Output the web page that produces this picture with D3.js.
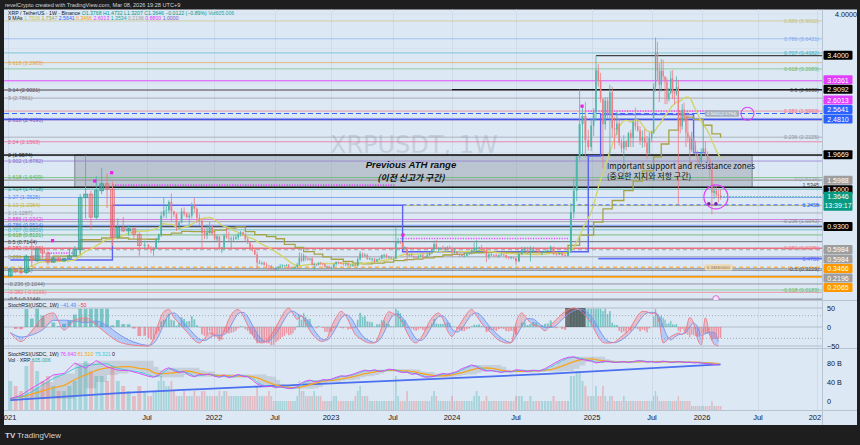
<!DOCTYPE html>
<html>
<head>
<meta charset="utf-8">
<script src="https://cdn.jsdelivr.net/npm/d3@7"></script>
<style>
  html, body { margin: 0; padding: 0; background: #1e1e1e; }
  svg { display: block; font-family: "Liberation Sans", Arial, sans-serif; }
</style>
</head>
<body>
<svg id="chart" width="860" height="445"></svg>
<script>
// ------- data (weekly XRP/USDT) -------
const firstWeek = "2021-01-04";
const firstOpen = 0.22;

const closes = [
  .31,.28,.27,.50,.44,.61,.55,.42,.48,.44,.47,.51,.60,1.35,1.40,1.07,1.45,1.55,1.47,.78,.92,.87,.90,.82,.66,.67,
  .62,.59,.61,.74,.81,1.09,1.16,1.17,1.29,1.15,1.11,.95,.99,1.15,1.12,1.07,1.09,1.24,1.19,1.06,1.02,.84,.81,.84,.94,.83,
  .75,.79,.62,.63,.80,.77,.76,.76,.76,.78,.82,.85,.82,.75,.70,.63,.60,.53,.41,.41,.41,.38,.37,.36,.32,.31,
  .34,.35,.36,.37,.37,.38,.34,.33,.33,.35,.38,.48,.44,.51,.48,.46,.47,.38,.39,.38,.41,.40,.39,.35,.35,.34,
  .35,.39,.42,.41,.40,.39,.40,.37,.37,.38,.37,.46,.54,.51,.52,.47,.47,.47,.43,.46,.47,.52,.52,.49,.49,.47,
  .47,.71,.71,.70,.63,.63,.52,.52,.51,.49,.48,.50,.52,.50,.49,.52,.55,.60,.68,.62,.62,.62,.61,.61,.63,.62,
  .57,.57,.54,.53,.51,.51,.54,.55,.59,.62,.62,.63,.60,.59,.50,.53,.53,.52,.50,.52,.53,.52,.49,.48,.49,.48,
  .43,.54,.60,.60,.56,.57,.60,.59,.55,.56,.58,.59,.64,.54,.53,.55,.52,.51,.57,1.14,1.45,1.94,2.41,2.53,2.18,2.08,2.39,
  2.58,3.19,3.04,2.77,2.41,2.75,2.55,2.87,2.35,2.33,2.42,2.14,2.06,2.16,2.08,2.28,2.21,2.44,2.38,2.32,2.17,2.22,2.14,1.99,2.21,2.28,
  2.95,3.45,3.18,2.98,3.18,3.10,3.02,2.77,2.86,3.07,2.87,2.85,2.95,2.47,2.38,2.62,2.50,2.29,2.22,2.04,2.20,2.10,2.00,1.92,1.86,2.00,
  2.06,1.98,1.90,1.75,1.42,1.45,1.40,1.3768,1.3646
];
const highs = [
  .35,.33,.32,.53,.76,.63,.65,.58,.50,.49,.48,.63,.65,1.40,1.96,1.45,1.66,1.78,1.70,1.58,1.05,1.07,.95,.92,.85,.73,
  .68,.65,.64,.77,.83,1.15,1.35,1.25,1.31,1.41,1.16,1.13,1.01,1.20,1.21,1.14,1.12,1.28,1.35,1.21,1.11,1.05,.91,.96,1.00,.96,
  .85,.81,.79,.64,.83,.91,.86,.79,.80,.82,.84,.87,.86,.84,.78,.71,.67,.61,.57,.45,.43,.43,.41,.37,.38,.33,
  .35,.36,.39,.39,.38,.39,.39,.35,.34,.36,.41,.56,.55,.54,.51,.48,.48,.50,.41,.39,.42,.42,.40,.40,.37,.37,
  .36,.40,.43,.43,.42,.41,.41,.41,.39,.39,.40,.49,.58,.56,.55,.54,.49,.48,.48,.47,.48,.53,.54,.54,.51,.50,
  .49,.93,.77,.73,.71,.65,.63,.53,.55,.51,.50,.52,.53,.55,.51,.55,.57,.63,.73,.74,.63,.63,.66,.64,.65,.66,
  .63,.62,.58,.54,.53,.52,.56,.56,.62,.70,.74,.64,.67,.62,.63,.55,.56,.53,.54,.53,.55,.54,.53,.50,.50,.49,
  .48,.55,.64,.64,.64,.65,.64,.61,.60,.57,.59,.60,.66,.64,.55,.56,.56,.54,.59,1.27,1.63,1.95,2.91,2.65,2.73,2.33,2.50,
  2.64,3.40,3.28,3.15,2.78,2.80,2.80,2.98,2.95,2.52,2.59,2.50,2.20,2.25,2.18,2.30,2.33,2.47,2.65,2.48,2.38,2.32,2.34,2.24,2.29,2.32,
  3.00,3.66,3.60,3.29,3.35,3.34,3.10,3.08,2.93,3.18,3.19,2.89,3.10,3.05,2.60,2.70,2.72,2.55,2.58,2.25,2.30,2.22,2.17,2.03,1.95,2.06,
  2.41,2.16,2.02,1.93,1.76,1.55,1.52,1.46,1.4732
];
const lows = [
  .21,.26,.24,.25,.36,.42,.48,.38,.41,.43,.42,.45,.50,.56,1.05,.89,1.03,1.40,1.20,.65,.75,.85,.80,.76,.51,.62,
  .60,.55,.51,.60,.70,.78,1.06,1.05,1.13,1.01,1.07,.87,.89,.98,1.08,1.05,.95,1.05,1.13,.98,.95,.62,.75,.75,.82,.81,
  .73,.72,.59,.55,.59,.76,.72,.62,.71,.74,.74,.79,.80,.72,.68,.62,.57,.52,.33,.39,.38,.37,.34,.29,.31,.30,
  .30,.31,.34,.33,.36,.36,.33,.32,.32,.32,.32,.37,.42,.43,.44,.44,.44,.37,.31,.36,.37,.38,.37,.34,.34,.33,
  .33,.34,.37,.39,.39,.37,.36,.37,.36,.35,.36,.36,.44,.48,.49,.45,.45,.43,.41,.43,.45,.46,.47,.47,.47,.46,
  .46,.46,.68,.68,.61,.61,.43,.50,.49,.48,.47,.47,.49,.49,.47,.48,.51,.54,.59,.60,.57,.60,.59,.58,.59,.60,
  .50,.54,.53,.49,.50,.49,.50,.52,.53,.58,.57,.55,.59,.56,.42,.46,.51,.49,.50,.48,.51,.51,.47,.46,.46,.46,
  .38,.42,.52,.57,.54,.43,.55,.56,.55,.52,.55,.57,.58,.52,.51,.52,.50,.50,.50,.55,1.05,1.30,1.90,1.96,1.93,2.03,2.02,
  2.24,2.46,2.95,2.72,1.77,2.33,2.50,1.95,2.22,2.05,2.25,2.10,2.00,1.61,2.03,2.08,2.08,2.08,2.32,2.30,2.11,2.07,2.08,1.91,1.97,2.16,
  2.27,2.88,3.03,2.73,2.88,3.05,2.70,2.70,2.74,2.84,2.77,2.70,2.82,1.25,2.28,2.33,2.44,2.08,2.15,1.82,2.01,1.98,1.95,1.82,1.82,1.82,
  2.00,1.95,1.85,1.62,1.11,1.33,1.35,1.28,1.3207
];
const volumes = [
  6,5,4,9,10,8,6,7,5,4,4,5,6,9,10,8,7,7,6,9,6,5,4,3,5,4, 3,3,4,4,6,7,6,5,5,6,4,3,3,3,4,3,3,3,4,3,3,4,4,3,3,3,
  3,3,4,3,4,4,3,3,3,3,3,3,3,3,3,3,3,3,5,3,3,3,3,4,3,2, 2,2,2,2,2,2,2,2,2,2,3,6,4,4,3,3,3,3,4,3,3,3,2,2,2,2,
  2,3,3,2,2,2,2,2,2,2,3,4,5,3,3,3,2,2,2,2,2,2,2,2,2,2, 2,7,3,2,2,2,4,2,2,2,2,2,2,2,2,2,2,3,4,3,2,2,2,2,2,2,
  3,2,2,2,2,2,2,2,2,3,4,3,2,2,3,2,2,2,2,2,2,2,2,2,2,2, 3,3,3,2,2,3,2,2,2,2,2,2,2,3,2,2,2,2,2,7,7,8,8,6,5,3,3,
  3,5,3,3,5,3,2,3,3,2,2,2,2,3,2,2,2,2,2,2,2,2,2,2,2,2, 3,4,3,2,2,2,2,2,2,2,2,2,2,3,2,2,2,2,2,2,1,1,1,1,1,1,
  1,1,1,1,2,1,1,1,1
];

// oscillator pane, one value every 2 weeks
const oscVals = [
  -15,-38,-10,25,37,-8,18,24,5,-18, -38,-46,-49,-50,-30,10,40,46,25,10,
  -5,-20,-35,-42,-30,-15,-20,-30,-10,20, 40,46,30,5,-20,-38,-42,-35,-20,0,
  20,40,50,35,20,30,10,-10,-25,-35, -38,-30,0,25,41,30,5,-20,-30,-38,
  -42,-42,-20,20,40,35,28,10,-15,-35, -42,-30,-10,15,30,37,20,-10,-25,-5,
  15,35,46,30,10,-5,-16,-30,-38,-42, -42,10,37,20,5,2,-10,5,20,35,
  45,50,45,30,10,-15,-35,-42,-42,-40, -30,-20,-10,10,30,41,40,35,37,10,
  -42,-35,-25,-20,-16,-20,-5,25,10,-30, -47,24,-20,-45,-50
];
// lower pane stochastic %K, one value every 2 weeks
const stochK = [
  5,12,27,40,55,58,80,69,85,72, 65,64,58,52,50,55,66,70,64,60,
  62,54,51,56,55,57,52,50,54,49, 52,56,52,51,44,36,32,30,31,28,
  30,28,26,27,30,38,42,44,40,42, 45,44,46,50,53,52,55,58,62,65,
  63,66,62,64,67,66,62,60,61,56, 58,53,50,51,52,55,58,56,59,62,
  68,72,76,72,66,63,64,62,60,63, 61,66,64,62,65,63,68,75,82,88,
  92,93,88,86,84,80,82,84,83,81, 82,83,81,83,85,84,82,83,81,82,
  84,83,81,82,83,82,81,82,80,81, 80,79,78,77,76
];
const blueTrendDates = ["2021-01-04", "2021-05-10", "2022-09-12", "2024-09-16", "2026-03-02"];
const blueTrendVals = [2, 15, 34, 57, 77];

// time axis
const tickDates = ["2021-01-01","2021-07-01","2022-01-01","2022-07-01","2023-01-01","2023-07-01","2024-01-01",
                   "2024-07-01","2025-01-01","2025-07-01","2026-01-01","2026-07-01","2027-01-01"];
const tickLabels = ["2021","Jul","2022","Jul","2023","Jul","2024","Jul","2025","Jul","2026","Jul","2027"];

// fib retracement drawn from the 2021 range (labels on the left)
const leftFibLevels = [3.618,3.14,3,2.618,2.24,2,1.902,1.618,1.414,1.27,1.13,1,0.886,0.786,0.707,0.618,0.5,0.382,0.236,0,-0.236,-0.382,-0.5];
const leftFibPrices = [3.2983,2.9021,2.7861,2.4696,2.1563,1.9574,1.8782,1.6409,1.4718,1.3525,1.2364,1.1287,1.0342,0.9514,0.8859,0.8121,0.7144,0.6166,0.4956,0.3001,0.1044,-0.0166,-0.1144];
// fib drawn from the 2025 range (labels on the right)
const rightFibLevels = [0.886,0.786,0.707,0.618,0.5,0.382,0.236,0,-0.236,-0.382,-0.5,-0.618];
const rightFibPrices = [3.9002,3.6421,3.4382,3.2083,2.9038,2.5993,2.2225,1.6134,1.0043,0.6275,0.3229,0.0183];

// key horizontal levels
const keyPrices = [3.4, 3.0361, 2.9092, 2.5641, 2.4810, 1.9669, 1.5988, 1.5, 1.2455, 0.93, 0.5984, 0.47, 0.3466, 0.2196, 0.2065];
const keyStarts = ["2025-01-13", null, "2024-01-01", null, null, null, null, null, "2023-07-31", null, null, "2025-01-20", null, null, null];

// step line, magenta dotted levels and markers
const blueStepDates = ["2021-01-04","2021-05-17","2023-07-31","2024-12-23","2025-01-27","2025-12-01","2026-01-12"];
const blueStepVals = [0.45, 1.24, 0.57, 1.95, 2.55, 2.0, 2.0];
const dotStarts = ["2021-02-22","2021-05-17","2023-07-24","2024-12-16"];
const dotEnds = ["2021-03-29","2023-07-10","2024-11-04","2026-02-16"];
const dotPrices = [0.55, 1.53, 0.76, 2.60];
const markDates = ["2021-02-28","2021-04-24","2021-05-16","2023-08-01","2024-12-08"];
const markPrices = [0.73, 1.59, 1.71, 0.81, 2.67];

// zone box and notes
const zoneDates = ["2021-03-29", "2026-06-12"];
const zonePrices = [1.5, 1.9669];
const notes = [
  { t: "Previous ATH range", d: "2023-08-26", p: 1.78, cls: "ath" },
  { t: "(이전 신고가 구간)", d: "2023-08-26", p: 1.595, cls: "athk" },
  { t: "Important support and resistance zones", d: "2025-02-15", p: 1.765, cls: "zone" },
  { t: "(중요한 지지와 저항 구간)", d: "2025-02-15", p: 1.625, cls: "zone" }
];

// right price scale labels
const axisTexts = ["3.4000","3.0361","2.9092","2.6013","2.5641","2.4810","1.9669","1.5988","1.5000","0.9300","0.5984","0.5984","0.3466","0.2196","0.2065"];
const lastPrice = 1.3646;

// ------- styles -------
const leftFibColors = ["#e3a64a","#6a4f63","#9a8d99","#7e57c2","#f06292","#2a2a2a","#8c72d0","#5cb860","#26a69a","#5b8def","#c2b13c","#9598a1","#d54ed5","#4a7cf0","#45b0bd","#4caf50","#3d3d3d","#f23645","#8f9299","#6d7079","#6d7079","#f47a86","#4d4d4d"];
const rightFibColors = ["#c9c27a","#84a9ec","#4fb3bf","#6dbb71","#555555","#f0707d","#9598a1","#a0a3ab","#8a8d96","#f07a86","#555555","#66bb6a"];
const keyStyles = [
  {c:"#3a3a3a",w:1.2},{c:"#e040fb",w:1},{c:"#111",w:1.2},{c:"#2962ff",w:1.2,d:"5,3"},{c:"#3d4ee8",w:1.4},
  {c:"#111",w:1.3},{c:"#9e9e9e",w:1},{c:"#111",w:1.3},{c:"#2962ff",w:1,d:"4,3"},{c:"#111",w:1.1},
  {c:"#9e9e9e",w:1,d:"4,3"},{c:"#5468ff",w:1.8},{c:"#ff9800",w:1,d:"4,3"},{c:"#9e9e9e",w:1.2},{c:"#ff9800",w:1.6}
];
const axisBg = ["#000","#e040fb","#000","#e040fb","#2962ff","#2962ff","#000","#9e9e9e","#000","#000","#9e9e9e","#9e9e9e","#ff9800","#9e9e9e","#ff9800"];

// ------- scales -------
const parse = d3.utcParse("%Y-%m-%d");
const P = { l: 4, r: 822, ax: 857, top: 9.5, mainB: 300, oscB: 348, stB: 410, timeB: 425 };
const x = d3.scaleUtc()
  .domain(tickDates.map(parse))
  .range([8, 147, 214, 275, 331, 393, 452, 516, 592, 652, 702, 758, 817]);
const y = d3.scaleLinear().domain([0, 4]).range([291.2, 14]);
const yO = d3.scaleLinear().domain([-50, 50]).range([346, 308]);
const yS = d3.scaleLinear().domain([0, 100]).range([401, 353.5]);
const yV = d3.scaleLinear().domain([0, 10]).range([411, 361]);

const weeks = closes.map((_, i) => d3.utcDay.offset(parse(firstWeek), 7 * i));
const n = Math.min(closes.length, highs.length, lows.length);
const bars = d3.range(n).map(i => ({
  d: weeks[i], o: i ? closes[i - 1] : firstOpen, h: highs[i], l: lows[i], c: closes[i], v: volumes[i] || 0
}));
const stepAt = i => i < n - 1 ? x(weeks[i + 1]) - x(weeks[i]) : x(weeks[i]) - x(weeks[i - 1]);

function sma(arr, len) {
  return arr.map((v, i) => d3.mean(arr.slice(Math.max(0, i - len + 1), i + 1)));
}

const svg = d3.select("#chart");
const bg = "#dde8f5";
svg.append("rect").attr("width", 860).attr("height", 445).attr("fill", "#1e1e1e");
svg.append("rect").attr("x", P.l).attr("y", P.top).attr("width", P.ax - P.l).attr("height", P.timeB - P.top).attr("fill", bg);

const defs = svg.append("defs");
function clip(id, y0, y1) {
  defs.append("clipPath").attr("id", id).append("rect")
    .attr("x", P.l).attr("y", y0).attr("width", P.r - P.l).attr("height", y1 - y0);
}
clip("cMain", P.top, P.mainB);
clip("cOsc", P.mainB, P.oscB);
clip("cSt", P.oscB, P.stB);

// vertical grid
tickDates.forEach(t => {
  const xx = Math.round(x(parse(t))) + 0.5;
  if (xx > P.r) return;
  svg.append("line").attr("x1", xx).attr("x2", xx).attr("y1", P.top).attr("y2", P.stB)
    .attr("stroke", "#d0dbe9").attr("stroke-width", 1);
});

// ------- main pane -------
const gm = svg.append("g").attr("clip-path", "url(#cMain)");
d3.range(0, 4.01, 0.5).forEach(p => {
  gm.append("line").attr("x1", P.l).attr("x2", P.r).attr("y1", y(p)).attr("y2", y(p))
    .attr("stroke", "#d5e0ed").attr("stroke-width", 1);
});

// watermark
gm.append("text").attr("x", x(parse("2023-09-04"))).attr("y", y(2.0))
  .attr("text-anchor", "middle").attr("font-size", 24).attr("fill", "#c5cfdc")
  .attr("font-family", "'DejaVu Sans', sans-serif").text("XRPUSDT, 1W");

// zone box
gm.append("rect")
  .attr("x", x(parse(zoneDates[0]))).attr("y", y(zonePrices[1]))
  .attr("width", x(parse(zoneDates[1])) - x(parse(zoneDates[0])))
  .attr("height", y(zonePrices[0]) - y(zonePrices[1]))
  .attr("fill", "rgba(118,126,140,0.33)").attr("stroke", "#6b6f78").attr("stroke-width", 0.8);

function hline(g, p, x1, x2, color, w, dash, op) {
  g.append("line").attr("x1", x1).attr("x2", x2).attr("y1", y(p)).attr("y2", y(p))
    .attr("stroke", color).attr("stroke-width", w).attr("stroke-opacity", op == null ? 1 : op)
    .attr("stroke-dasharray", dash || null);
}

leftFibPrices.forEach((p, i) => {
  hline(gm, p, P.l, P.r, leftFibColors[i], 1, null, 0.7);
  gm.append("text").attr("x", P.l + 4).attr("y", y(p)).attr("dy", "0.35em")
    .attr("font-size", 5.4).attr("fill", leftFibColors[i])
    .text(`${leftFibLevels[i]} (${leftFibPrices[i].toFixed(4)})`);
});
rightFibPrices.forEach((p, i) => {
  hline(gm, p, P.l, P.r, rightFibColors[i], 1, null, 0.65);
  gm.append("text").attr("x", P.r - 3).attr("y", y(p)).attr("dy", "0.35em")
    .attr("text-anchor", "end").attr("font-size", 5.4).attr("fill", rightFibColors[i])
    .text(`${rightFibLevels[i]} (${rightFibPrices[i].toFixed(4)})`);
});

keyPrices.forEach((p, i) => {
  const s = keyStyles[i];
  const x1 = keyStarts[i] ? x(parse(keyStarts[i])) : P.l;
  hline(gm, p, x1, P.r, s.c, s.w, s.d, 0.95);
});
[["1.5345", 1.5345, "#444"], ["1.2455", 1.2455, "#2962ff"], ["0.4700", 0.47, "#5468ff"]].forEach(d => {
  gm.append("text").attr("x", P.r - 3).attr("y", y(d[1])).attr("dy", "0.35em")
    .attr("text-anchor", "end").attr("font-size", 5.4).attr("fill", d[2]).text(d[0]);
});

// magenta dotted levels
dotPrices.forEach((p, i) => {
  hline(gm, p, x(parse(dotStarts[i])), x(parse(dotEnds[i])), "#e040fb", 1.6, "1.2,1.4", 0.9);
});

// blue step line
const stepLine = d3.line().x(d => x(d[0])).y(d => y(d[1])).curve(d3.curveStepAfter);
gm.append("path").datum(blueStepDates.map((d, i) => [parse(d), blueStepVals[i]]))
  .attr("d", stepLine).attr("fill", "none").attr("stroke", "#5b63f0").attr("stroke-width", 1.4);

// 12-month MA of monthly closes (stepped) and 20-week MA
const months = d3.groups(bars, b => d3.utcMonth.floor(b.d).getTime());
const monthClose = months.map(m => m[1][m[1].length - 1].c);
const monthMA = sma(monthClose, 12);
const slowPts = months.map((m, k) => [m[1][0].d, monthMA[k]]);
slowPts.push([bars[n - 1].d, monthMA[monthMA.length - 1]]);
gm.append("path").datum(slowPts)
  .attr("d", stepLine).attr("fill", "none").attr("stroke", "#a6a346").attr("stroke-width", 1.3);
const fastMA = sma(closes.slice(0, n), 20);
gm.append("path").datum(bars.map((b, i) => [b.d, fastMA[i]]))
  .attr("d", d3.line().x(d => x(d[0])).y(d => y(d[1])).curve(d3.curveMonotoneX))
  .attr("fill", "none").attr("stroke", "#d2d36a").attr("stroke-width", 1.4);

// candles
const gc = gm.append("g");
bars.forEach((b, i) => {
  const up = b.c >= b.o;
  const sp = stepAt(i);
  const w = Math.max(1, sp * 0.68);
  const cx = x(b.d);
  const top = y(Math.max(b.o, b.c)), bot = y(Math.min(b.o, b.c));
  gc.append("line").attr("x1", cx).attr("x2", cx).attr("y1", y(b.h)).attr("y2", y(b.l))
    .attr("stroke", up ? "#4fb3a8" : "#ec7b84").attr("stroke-width", sp > 4 ? 0.9 : 0.8);
  const body = gc.append("rect").attr("x", cx - w / 2).attr("y", top)
    .attr("width", w).attr("height", Math.max(0.8, bot - top));
  if (w >= 3) {
    body.attr("fill", up ? "rgba(38,166,154,0.42)" : "rgba(239,83,80,0.28)")
      .attr("stroke", up ? "#3b9f94" : "#e0717a").attr("stroke-width", 0.8);
  } else {
    body.attr("fill", up ? "#4db6aa" : "#ef7d86");
  }
});

// last price line
hline(gm, lastPrice, x(weeks[n - 1]), P.r, "#089981", 1, "1,2", 1);

// markers
markDates.forEach((d, i) => {
  gm.append("rect").attr("x", x(parse(d)) - 1.6).attr("y", y(markPrices[i]) - 1.6)
    .attr("width", 3.2).attr("height", 3.2).attr("fill", "#e91ee8");
});
["2026-01-23", "2026-02-15"].forEach(d => {
  gm.append("circle").attr("cx", x(parse(d))).attr("cy", y(1.26)).attr("r", 1.8).attr("fill", "#7b1fa2");
});
gm.append("circle").attr("cx", x(parse("2026-02-15"))).attr("cy", y(1.36)).attr("r", 12)
  .attr("fill", "none").attr("stroke", "#e040fb").attr("stroke-width", 1.2);
gm.append("circle").attr("cx", x(parse("2026-05-28"))).attr("cy", y(2.56)).attr("r", 6.5)
  .attr("fill", "none").attr("stroke", "#e040fb").attr("stroke-width", 1.1);
gm.append("circle").attr("cx", x(parse("2026-02-15"))).attr("cy", y(-0.11)).attr("r", 3.2)
  .attr("fill", "#f4e4f4").attr("stroke", "#d050d0").attr("stroke-width", 0.8);

// small value tags
function tag(d, p, t, fill, color) {
  const g = gm.append("g");
  const tx = g.append("text").attr("x", x(parse(d)) + 2).attr("y", y(p)).attr("dy", "0.35em")
    .attr("font-size", 4.4).attr("fill", color).text(t);
  const bb = tx.node().getBBox();
  g.insert("rect", "text").attr("x", bb.x - 2).attr("y", bb.y - 0.8).attr("width", bb.width + 4)
    .attr("height", bb.height + 1.6).attr("rx", 1.5).attr("fill", fill);
}
tag("2026-01-10", 2.5641, "2.5641(2.5794)", "#a7b0bd", "#fff");
tag("2026-01-10", 0.3466, "0.34660000", "#eadcbc", "#8a6d3b");

// notes
notes.forEach(nt => {
  const tx = gm.append("text").attr("x", x(parse(nt.d))).attr("y", y(nt.p)).text(nt.t).attr("fill", "#111");
  if (nt.cls === "ath") {
    tx.attr("text-anchor", "middle").attr("font-size", 9.6).attr("font-style", "italic").attr("font-weight", "bold")
      .attr("font-family", "'Liberation Sans', Arial, sans-serif");
  } else if (nt.cls === "athk") {
    tx.attr("text-anchor", "middle").attr("font-size", 8.8).attr("font-style", "italic").attr("font-weight", "bold")
      .attr("font-family", "'Noto Sans CJK KR', sans-serif");
  } else {
    tx.attr("font-size", 8).attr("font-family", "'Noto Sans CJK KR', 'Noto Sans', sans-serif");
  }
});

// ------- oscillator pane -------
const go = svg.append("g").attr("clip-path", "url(#cOsc)");
[50, 0, -50].forEach(v => go.append("line").attr("x1", P.l).attr("x2", P.r).attr("y1", yO(v)).attr("y2", yO(v))
  .attr("stroke", "#aab2bf").attr("stroke-width", 0.8));
[30, -30].forEach(v => go.append("line").attr("x1", P.l).attr("x2", P.r).attr("y1", yO(v)).attr("y2", yO(v))
  .attr("stroke", "#8f96a3").attr("stroke-width", 0.7).attr("stroke-dasharray", "1,2"));

const sma20 = sma(closes.slice(0, n), 20);
bars.forEach((b, i) => {
  const h = Math.max(-48, Math.min(48, (b.c / sma20[i] - 1) * 100));
  const w = Math.max(1, stepAt(i) * 0.7);
  go.append("rect").attr("x", x(b.d) - w / 2).attr("y", Math.min(yO(h), yO(0)))
    .attr("width", w).attr("height", Math.abs(yO(h) - yO(0)))
    .attr("fill", h >= 0 ? "rgba(38,166,154,0.55)" : "rgba(242,84,96,0.55)");
});
go.append("rect").attr("x", x(parse("2024-10-28"))).attr("y", yO(50))
  .attr("width", x(parse("2024-12-16")) - x(parse("2024-10-28"))).attr("height", yO(0) - yO(50))
  .attr("fill", "#4a4a4a").attr("opacity", 0.75);

const oscDates = oscVals.map((_, k) => weeks[Math.min(2 * k, n - 1)]);
const oscSig = sma(oscVals, 3);
for (let k = 0; k < oscVals.length - 1; k++) {
  const seg = [k, k + 1].map(j => ({ d: oscDates[j], a: oscVals[j], b: oscSig[j] }));
  const rising = oscVals[k] + oscVals[k + 1] >= oscSig[k] + oscSig[k + 1];
  go.append("path").datum(seg)
    .attr("d", d3.area().x(d => x(d.d)).y0(d => yO(d.b)).y1(d => yO(d.a)))
    .attr("fill", rising ? "rgba(242,54,69,0.22)" : "rgba(41,98,255,0.22)");
}
const oscLine = d3.line().x((d, k) => x(oscDates[k])).y(d => yO(d)).curve(d3.curveMonotoneX);
go.append("path").datum(oscSig).attr("d", oscLine).attr("fill", "none").attr("stroke", "#7d98ee").attr("stroke-width", 1);
go.append("path").datum(oscVals).attr("d", oscLine).attr("fill", "none").attr("stroke", "#ee7d89").attr("stroke-width", 1);

// ------- stochastic / volume pane -------
const gs = svg.append("g").attr("clip-path", "url(#cSt)");
const stDates = stochK.map((_, k) => weeks[Math.min(2 * k, n - 1)]);
const chHi = stochK.map((v, k) => d3.max(stochK.slice(Math.max(0, k - 5), k + 1)));
const chLo = stochK.map((v, k) => d3.min(stochK.slice(Math.max(0, k - 5), k + 1)));
gs.append("path").datum(stochK)
  .attr("d", d3.area().x((d, k) => x(stDates[k])).y0((d, k) => yS(chLo[k])).y1((d, k) => yS(chHi[k])).curve(d3.curveStepAfter))
  .attr("fill", "rgba(120,123,134,0.22)");
bars.forEach((b, i) => {
  const w = Math.max(1, stepAt(i) * 0.72);
  gs.append("rect").attr("x", x(b.d) - w / 2).attr("y", yV(b.v)).attr("width", w).attr("height", yV(0) - yV(b.v))
    .attr("fill", b.c >= b.o ? "rgba(38,166,154,0.3)" : "rgba(239,83,80,0.3)");
});
gs.append("path").datum(blueTrendDates.map((d, i) => [parse(d), blueTrendVals[i]]))
  .attr("d", d3.line().x(d => x(d[0])).y(d => yS(d[1])).curve(d3.curveMonotoneX))
  .attr("fill", "none").attr("stroke", "#4a6ff0").attr("stroke-width", 1.8);
gs.append("path").datum(sma(stochK, 6)).attr("d", d3.line().x((d, k) => x(stDates[k])).y(d => yS(d)).curve(d3.curveMonotoneX))
  .attr("fill", "none").attr("stroke", "#f5a623").attr("stroke-width", 1.3);
gs.append("path").datum(sma(stochK, 2)).attr("d", d3.line().x((d, k) => x(stDates[k])).y(d => yS(d)))
  .attr("fill", "none").attr("stroke", "#3cc7d6").attr("stroke-width", 0.9);
gs.append("path").datum(stochK).attr("d", d3.line().x((d, k) => x(stDates[k])).y(d => yS(d)))
  .attr("fill", "none").attr("stroke", "#e040fb").attr("stroke-width", 0.9);

// pane separators
[P.mainB, P.oscB, P.stB].forEach(v => svg.append("line").attr("x1", P.l).attr("x2", P.ax)
  .attr("y1", v + 0.5).attr("y2", v + 0.5).attr("stroke", "#b9c4d2").attr("stroke-width", 1));

// ------- time axis -------
tickDates.forEach((t, i) => {
  svg.append("text").attr("x", x(parse(t))).attr("y", 419.5).attr("text-anchor", "middle")
    .attr("font-size", 7.5).attr("fill", "#131722").text(tickLabels[i]);
});
svg.append("rect").attr("x", P.r).attr("y", P.stB + 1).attr("width", P.ax - P.r).attr("height", P.timeB - P.stB - 1).attr("fill", bg);
svg.append("line").attr("x1", P.r + 0.5).attr("x2", P.r + 0.5).attr("y1", P.top).attr("y2", P.timeB)
  .attr("stroke", "#b9c4d2").attr("stroke-width", 1);

// ------- price scale -------
const boxH = 9.5;
const labs = axisTexts.map((t, i) => ({ t, p: +t, bg: axisBg[i], yy: y(+t) }));
const upper = labs.filter(d => d.p >= 2.4).sort((a, b) => b.yy - a.yy);
for (let i = 1; i < upper.length; i++) if (upper[i].yy > upper[i - 1].yy - boxH) upper[i].yy = upper[i - 1].yy - boxH;
const lower = labs.filter(d => d.p < 2.4).sort((a, b) => a.yy - b.yy);
for (let i = 1; i < lower.length; i++) if (lower[i].yy < lower[i - 1].yy + boxH) lower[i].yy = lower[i - 1].yy + boxH;
const taken = labs.map(d => d.yy).concat([y(lastPrice), y(lastPrice) + 9]);

d3.range(0, 4.01, 0.5).forEach(p => {
  if (taken.some(v => Math.abs(v - y(p)) < 7)) return;
  svg.append("text").attr("x", 835).attr("y", y(p)).attr("dy", "0.35em")
    .attr("font-size", 7.2).attr("fill", "#131722").text(p.toFixed(4));
});
labs.forEach(d => {
  svg.append("rect").attr("x", 823.5).attr("y", d.yy - boxH / 2).attr("width", 29).attr("height", boxH - 0.5)
    .attr("rx", 1).attr("fill", d.bg);
  svg.append("text").attr("x", 838).attr("y", d.yy).attr("dy", "0.36em").attr("text-anchor", "middle")
    .attr("font-size", 7).attr("fill", "#fff").text(d.t);
});
svg.append("rect").attr("x", 823.5).attr("y", y(lastPrice) - 5).attr("width", 29).attr("height", 19)
  .attr("rx", 1).attr("fill", "#089981");
svg.append("text").attr("x", 838).attr("y", y(lastPrice)).attr("dy", "0.36em").attr("text-anchor", "middle")
  .attr("font-size", 7).attr("fill", "#fff").text(lastPrice.toFixed(4));
svg.append("text").attr("x", 838).attr("y", y(lastPrice) + 9).attr("dy", "0.36em").attr("text-anchor", "middle")
  .attr("font-size", 7).attr("fill", "#fff").text("13:39:17");

[50, 0, -50].forEach(v => svg.append("text").attr("x", 827).attr("y", yO(v)).attr("dy", "0.35em")
  .attr("font-size", 7.2).attr("fill", "#131722").text(v < 0 ? "\u2212" + Math.abs(v) : String(v)));
[80, 40, 0].forEach(v => svg.append("text").attr("x", 827).attr("y", yS(v)).attr("dy", "0.35em")
  .attr("font-size", 7.2).attr("fill", "#131722").text(v ? v + " B" : "0"));

// ------- legends -------
function legend(yy, parts) {
  const t = svg.append("text").attr("x", 8).attr("y", yy).attr("font-size", 5.2);
  parts.forEach(p => t.append("tspan").attr("fill", p[1]).text(p[0] + " "));
}
legend(14.5, [["XRP / TetherUS · 1W · Binance", "#131722"], ["O1.3768 H1.4732 L1.3207 C1.3646 \u22120.0122 (\u22120.89%)", "#089981"], ["Vol605.006", "#26a69a"]]);
legend(20, [["9 MAs", "#131722"], ["1.7506", "#c9c24a"], ["1.7547", "#a6a346"], ["2.5641", "#2962ff"], ["0.3466", "#ff9800"],
  ["2.6013", "#e040fb"], ["1.3534", "#26a69a"], ["0.2196", "#9e9e9e"], ["0.8800", "#e040fb"], ["1.0000", "#7e57c2"]]);
legend(306.5, [["StochRSI(USDC, 1W)", "#131722"], ["\u221241.49", "#5b7ff0"], ["\u221250", "#f23645"]]);
legend(356, [["StochRSI(USDC, 1W)", "#131722"], ["76.640", "#e040fb"], ["81.510", "#f5a623"], ["75.321", "#3cc7d6"], ["0", "#131722"]]);
legend(362, [["Vol · XRP", "#131722"], ["605.006", "#26a69a"]]);

svg.append("text").attr("x", 5).attr("y", 6.8).attr("font-size", 5.6).attr("fill", "#d1d4dc")
  .text("revelCrypto created with TradingView.com, Mar 08, 2026 19:28 UTC+9");
svg.append("text").attr("x", 5).attr("y", 438).attr("font-size", 8).attr("font-weight", "bold").attr("fill", "#d1d4dc").text("TV");
svg.append("text").attr("x", 17).attr("y", 438).attr("font-size", 8).attr("fill", "#d1d4dc").text("TradingView");
</script>
</body>
</html>
